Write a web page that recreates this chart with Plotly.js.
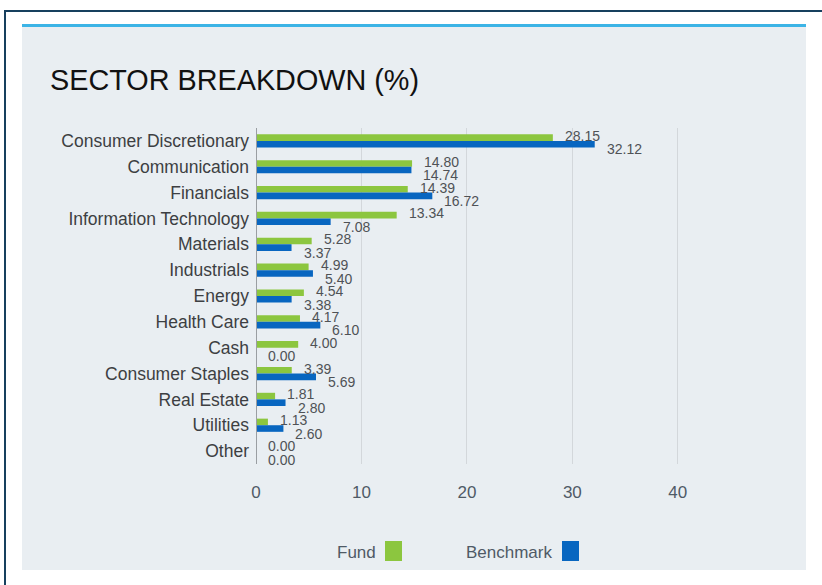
<!DOCTYPE html>
<html>
<head>
<meta charset="utf-8">
<script src="https://cdn.plot.ly/plotly-3.0.1.min.js"></script>
<style>
  html, body { margin: 0; padding: 0; background: #ffffff; width: 822px; height: 585px; overflow: hidden; }
  #frame { position: absolute; left: 4px; top: 10px; width: 818px; height: 575px;
           border-top: 2px solid #17405e; border-left: 2px solid #17405e; box-sizing: border-box; }
  #panel { position: absolute; left: 22px; top: 24px; width: 784px; height: 546px;
           background: #e9eef2; border-top: 3px solid #3cb4e6; box-sizing: border-box; }
  #chart { position: absolute; left: 22px; top: 27px; width: 784px; height: 543px; }
</style>
</head>
<body>
<div id="frame"></div>
<div id="panel"></div>
<div id="chart"></div>
<script>
const categories = ["Consumer Discretionary", "Communication", "Financials", "Information Technology",
  "Materials", "Industrials", "Energy", "Health Care", "Cash", "Consumer Staples",
  "Real Estate", "Utilities", "Other"];
const fundValues = [28.15, 14.80, 14.39, 13.34, 5.28, 4.99, 4.54, 4.17, 4.00, 3.39, 1.81, 1.13, 0.00];
const benchmarkValues = [32.12, 14.74, 16.72, 7.08, 3.37, 5.40, 3.38, 6.10, 0.00, 5.69, 2.80, 2.60, 0.00];
const seriesNames = ["Fund", "Benchmark"];
const xTicks = [0, 10, 20, 30, 40];

const GREEN = "#8cc63f";
const BLUE = "#0866c0";
const FONT = "Liberation Sans, Arial, sans-serif";

const traces = [
  { type: "bar", orientation: "h", name: seriesNames[0], y: categories, x: fundValues,
    marker: { color: GREEN }, hoverinfo: "x+y" },
  { type: "bar", orientation: "h", name: seriesNames[1], y: categories, x: benchmarkValues,
    marker: { color: BLUE }, hoverinfo: "x+y" }
];

const annotations = [];
categories.forEach((c, i) => {
  annotations.push({ x: fundValues[i], y: c, xref: "x", yref: "y", text: fundValues[i].toFixed(2),
    showarrow: false, xanchor: "left", yanchor: "middle", xshift: 10, yshift: 5,
    font: { family: FONT, size: 14, color: "#4f5256" } });
  annotations.push({ x: benchmarkValues[i], y: c, xref: "x", yref: "y", text: benchmarkValues[i].toFixed(2),
    showarrow: false, xanchor: "left", yanchor: "middle", xshift: 10, yshift: -8.5,
    font: { family: FONT, size: 14, color: "#4f5256" } });
});

// legend (text followed by swatch)
const plotW = 464, plotH = 336;
function px(xp) { return (xp - 256) / plotW; }
function py(yp) { return (464 - yp) / plotH; }
annotations.push({ xref: "paper", yref: "paper", x: px(378), y: py(552), text: seriesNames[0],
  showarrow: false, xanchor: "right", yanchor: "middle", font: { family: FONT, size: 17, color: "#4f5a66" } });
annotations.push({ xref: "paper", yref: "paper", x: px(554), y: py(552), text: seriesNames[1],
  showarrow: false, xanchor: "right", yanchor: "middle", font: { family: FONT, size: 17, color: "#4f5a66" } });

const shapes = [
  { type: "rect", xref: "paper", yref: "paper", x0: px(385), x1: px(402), y0: py(561), y1: py(541),
    fillcolor: GREEN, line: { width: 0 } },
  { type: "rect", xref: "paper", yref: "paper", x0: px(562), x1: px(579), y0: py(561), y1: py(541),
    fillcolor: BLUE, line: { width: 0 } }
];

const layout = {
  width: 784, height: 543,
  paper_bgcolor: "#e9eef2", plot_bgcolor: "rgba(0,0,0,0)",
  margin: { l: 234, r: 784 - 234 - plotW, t: 101, b: 543 - 101 - plotH, pad: 0 },
  title: { text: "SECTOR BREAKDOWN (%)", xref: "container", yref: "container",
    x: 28 / 784, xanchor: "left", y: 1 - 53 / 543, yanchor: "middle",
    font: { family: FONT, size: 28.8, color: "#111111" } },
  barmode: "group", bargap: 0.49, bargroupgap: 0,
  showlegend: false,
  xaxis: { range: [0, 44], tickvals: xTicks, ticktext: xTicks.map(String),
    showgrid: true, gridcolor: "#d3d7db", gridwidth: 1,
    zeroline: false, showline: false, ticks: "",
    ticklabelstandoff: 16,
    tickfont: { family: FONT, size: 17, color: "#4f5a66" }, fixedrange: true },
  yaxis: { type: "category", range: [12.5, -0.5], showgrid: false, zeroline: false,
    showline: false, ticks: "", ticklabelstandoff: 6,
    tickfont: { family: FONT, size: 17.5, color: "#3d3f42" }, fixedrange: true },
  shapes: shapes.concat([
    { type: "line", xref: "x", yref: "paper", x0: 0, x1: 0, y0: 0, y1: 1.0,
      line: { color: "#9a9ea2", width: 2 } }
  ]),
  annotations: annotations
};

Plotly.newPlot("chart", traces, layout, { displayModeBar: false, staticPlot: true });
</script>
</body>
</html>
